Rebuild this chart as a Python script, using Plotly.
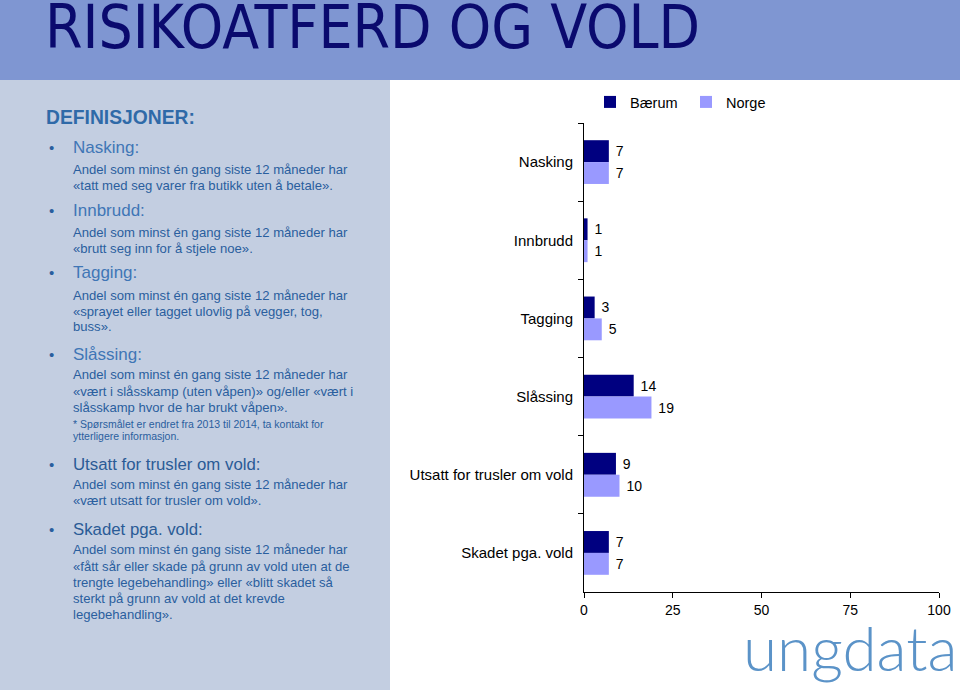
import plotly.graph_objects as go

# ---------------- data ----------------
categories = ["Nasking", "Innbrudd", "Tagging", "Slåssing",
              "Utsatt for trusler om vold", "Skadet pga. vold"]
baerum = [7, 1, 3, 14, 9, 7]
norge = [7, 1, 5, 19, 10, 7]
series_names = ["Bærum", "Norge"]
x_ticks = [0, 25, 50, 75, 100]

title_text = "RISIKOATFERD OG VOLD"
defs_title = "DEFINISJONER:"
def_headings = ["Nasking:", "Innbrudd:", "Tagging:", "Slåssing:",
                "Utsatt for trusler om vold:", "Skadet pga. vold:"]
def_bodies = [
    ["Andel som minst én gang siste 12 måneder har",
     "«tatt med seg varer fra butikk uten å betale»."],
    ["Andel som minst én gang siste 12 måneder har",
     "«brutt seg inn for å stjele noe»."],
    ["Andel som minst én gang siste 12 måneder har",
     "«sprayet eller tagget ulovlig på vegger, tog,",
     "buss»."],
    ["Andel som minst én gang siste 12 måneder har",
     "«vært i slåsskamp (uten våpen)» og/eller «vært i",
     "slåsskamp hvor de har brukt våpen»."],
    ["Andel som minst én gang siste 12 måneder har",
     "«vært utsatt for trusler om vold»."],
    ["Andel som minst én gang siste 12 måneder har",
     "«fått sår eller skade på grunn av vold uten at de",
     "trengte legebehandling» eller «blitt skadet så",
     "sterkt på grunn av vold at det krevde",
     "legebehandling»."],
]
note_lines = ["* Spørsmålet er endret fra 2013 til 2014, ta kontakt for",
              "ytterligere informasjon."]
logo_text = "ungdata"

# ---------------- layout helpers ----------------
W, H = 960, 690
def px(x):
    return x / W
def py(y):
    return 1 - y / H

heading_y = [147, 210, 272, 354, 464, 529]
body_y = [[169, 185], [232, 248], [295, 311, 327], [374, 391, 407],
          [484, 500], [549, 566, 582, 598, 614]]
note_y = [424, 436]

BODY_COL = "#2a5e9e"
HEAD_COL = ["#3f76b6", "#3f76b6", "#3f76b6", "#3f76b6", "#2a5b96", "#2a5b96"]
FONT = "Liberation Sans, Arial, sans-serif"

fig = go.Figure()
fig.add_trace(go.Bar(
    y=categories, x=baerum, name=series_names[0], orientation="h",
    marker=dict(color="#000080", line=dict(width=0)),
    texttemplate="\u00a0%{x}", textposition="outside", cliponaxis=False,
    textfont=dict(size=14, color="black", family=FONT),
    constraintext="none"))
fig.add_trace(go.Bar(
    y=categories, x=norge, name=series_names[1], orientation="h",
    marker=dict(color="#9999ff", line=dict(width=0)),
    texttemplate="\u00a0%{x}", textposition="outside", cliponaxis=False,
    textfont=dict(size=14, color="black", family=FONT),
    constraintext="none"))

shapes = [
    dict(type="rect", xref="paper", yref="paper", x0=0, x1=1, y0=py(80), y1=1,
         fillcolor="#7f96d2", line=dict(width=0), layer="below"),
    dict(type="rect", xref="paper", yref="paper", x0=0, x1=px(390), y0=0, y1=py(80),
         fillcolor="#c3cee1", line=dict(width=0), layer="below"),
]

ann = []
ann.append(dict(text=title_text, x=px(43), y=py(27), xref="paper", yref="paper",
                xanchor="left", yanchor="middle", showarrow=False,
                font=dict(family="DejaVu Sans Condensed, sans-serif",
                          size=60, color="#0a0a6e")))
ann.append(dict(text="<b>" + defs_title + "</b>", x=px(44), y=py(117), xref="paper", yref="paper",
                xanchor="left", yanchor="middle", showarrow=False,
                font=dict(family=FONT, size=19.3, color="#2f6aa8")))
for i, h in enumerate(def_headings):
    ann.append(dict(text="•", x=px(47), y=py(heading_y[i]), xref="paper", yref="paper",
                    xanchor="left", yanchor="middle", showarrow=False,
                    font=dict(family=FONT, size=15, color=BODY_COL)))
    ann.append(dict(text=h, x=px(71), y=py(heading_y[i]), xref="paper", yref="paper",
                    xanchor="left", yanchor="middle", showarrow=False,
                    font=dict(family=FONT, size=17 if i < 4 else 16.8, color=HEAD_COL[i])))
    for j, line in enumerate(def_bodies[i]):
        ann.append(dict(text=line, x=px(71), y=py(body_y[i][j]), xref="paper", yref="paper",
                        xanchor="left", yanchor="middle", showarrow=False,
                        font=dict(family=FONT, size=13.1, color=BODY_COL)))
for j, line in enumerate(note_lines):
    ann.append(dict(text=line, x=px(71), y=py(note_y[j]), xref="paper", yref="paper",
                    xanchor="left", yanchor="middle", showarrow=False,
                    font=dict(family=FONT, size=10.5, color=BODY_COL)))
ann.append(dict(text=logo_text, x=px(960), y=py(647), xref="paper", yref="paper",
                xanchor="right", yanchor="middle", showarrow=False,
                font=dict(family="Lato, sans-serif", size=62, color="#5b93c8", weight=300)))

fig.update_layout(
    width=W, height=H, autosize=False,
    margin=dict(l=0, r=0, t=0, b=0, pad=0, autoexpand=False),
    paper_bgcolor="white", plot_bgcolor="white",
    barmode="group", bargap=0.44, bargroupgap=0,
    shapes=shapes, annotations=ann,
    showlegend=True,
    legend=dict(orientation="h", x=px(590), y=py(102), xanchor="left", yanchor="middle",
                font=dict(family=FONT, size=14.5, color="black"),
                bgcolor="rgba(0,0,0,0)", entrywidth=51, entrywidthmode="pixels",
                traceorder="normal"),
    font=dict(family=FONT, color="black"),
    xaxis=dict(domain=[px(584), px(939)], range=[0, 100], tickvals=x_ticks,
               showgrid=False, zeroline=False, showline=True, linecolor="black",
               linewidth=1, ticks="outside", ticklen=5, tickcolor="black",
               automargin=False,
               tickfont=dict(size=14, family=FONT, color="black")),
    yaxis=dict(domain=[py(592), py(123)], autorange="reversed", type="category",
               showgrid=False, zeroline=False, showline=True, linecolor="black",
               linewidth=1, ticks="outside", ticklen=5, tickcolor="black",
               tickson="boundaries", ticklabelstandoff=7, automargin=False,
               tickfont=dict(size=15, family=FONT, color="black")),
)

post = (
    "document.documentElement.style.margin='0';"
    "document.documentElement.style.padding='0';"
    "document.documentElement.style.overflow='hidden';"
    "document.body.style.margin='0';"
    "document.body.style.padding='0';"
    "document.body.style.overflow='hidden';"
    "var gd=document.getElementById('{plot_id}');"
    "gd.style.position='fixed';gd.style.left='0px';gd.style.top='0px';"
    "gd.style.width='960px';gd.style.height='690px';"
    "window.scrollTo(0,0);"
)

fig.write_html("out.html", config={"displayModeBar": False}, post_script=post)
